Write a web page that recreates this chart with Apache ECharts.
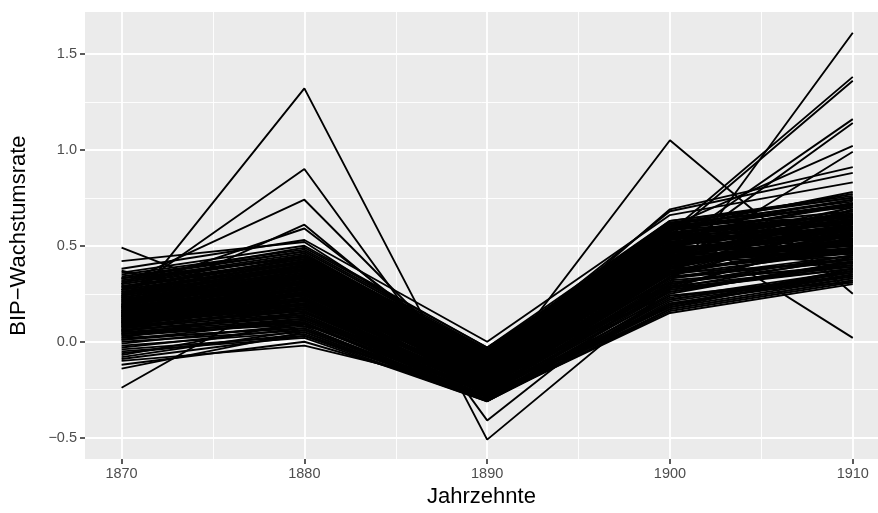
<!DOCTYPE html>
<html>
<head>
<meta charset="utf-8">
<script src="https://cdn.jsdelivr.net/npm/echarts@6/dist/echarts.min.js"></script>
<style>
html, body { margin: 0; padding: 0; background: #fff; }
#chart { width: 878px; height: 513px; }
</style>
</head>
<body>
<div id="chart"></div>
<script>
var years = [1870, 1880, 1890, 1900, 1910];
var xMinor = [1875, 1885, 1895, 1905];
var yTicks = [-0.5, 0, 0.5, 1, 1.5];
var yMinor = [-0.25, 0.25, 0.75, 1.25];

// one value per line (country) and decade
var v1870 = [0.13, 0.23, 0.30, 0.18, 0.27, 0.49, 0.42, -0.24, 0.08, 0.15, 0.20, 0.10, 0.22, 0.05, 0.31, 0.12, 0.16, 0.25, 0.02, 0.38, 0.36, -0.14, -0.12, -0.10, -0.07, 0.33, 0.29, 0.37,
    0.12, 0.18, 0.07, 0.22, 0.15, 0.03, 0.26, 0.10, 0.19, 0.14, 0.08, 0.21, 0.16, 0.29, 0.11, 0.05, 0.24, 0.13, 0.17, 0.01,
    0.20, 0.09, 0.27, 0.14, 0.06, 0.23, 0.12, 0.31, 0.16, -0.02, 0.18, 0.10, 0.25, 0.04, 0.15, 0.20, 0.08, 0.28, 0.13, 0.11,
    -0.04, 0.17, 0.22, 0.07, 0.19, 0.12, 0.33, 0.09, 0.15, 0.02, 0.24, 0.14, 0.06, 0.21, 0.18, 0.10, 0.26, 0.00, 0.16, 0.13,
    0.08, 0.30, 0.11, 0.19, 0.04, 0.23, 0.15, 0.09, 0.27, 0.12, -0.05, 0.17, 0.20, 0.06, 0.14, 0.25, 0.10, 0.32, 0.16, 0.03,
    0.21, 0.13, 0.18, 0.08, 0.24, 0.11, 0.29, 0.05, 0.19, 0.15,
    0.28, 0.35, -0.08, 0.19, 0.09, 0.32, -0.01, 0.23, 0.14, 0.06, 0.26, 0.34, -0.06, 0.17, 0.11, 0.30, 0.01, 0.21, 0.07, 0.27,
    -0.03, 0.13, 0.33, 0.18, 0.04, 0.24, -0.09, 0.16, 0.10, 0.22];
var v1880 = [1.32, 0.90, 0.74, 0.61, 0.59, 0.12, 0.52, 0.30, 0.22, 0.35, 0.40, 0.28, 0.33, 0.25, 0.45, 0.20, 0.38, 0.42, 0.18, 0.53, 0.50, 0.05, 0.00, -0.02, 0.10, 0.47, 0.08, 0.15,
    0.25, 0.31, 0.18, 0.35, 0.28, 0.12, 0.40, 0.22, 0.33, 0.27, 0.16, 0.36, 0.29, 0.43, 0.21, 0.10, 0.38, 0.26, 0.30, 0.08,
    0.34, 0.19, 0.41, 0.24, 0.14, 0.37, 0.23, 0.45, 0.31, 0.05, 0.29, 0.20, 0.39, 0.11, 0.27, 0.33, 0.17, 0.42, 0.25, 0.22,
    0.03, 0.30, 0.36, 0.15, 0.32, 0.24, 0.44, 0.18, 0.28, 0.07, 0.38, 0.26, 0.13, 0.34, 0.31, 0.21, 0.40, 0.06, 0.29, 0.25,
    0.16, 0.43, 0.23, 0.32, 0.09, 0.37, 0.27, 0.19, 0.41, 0.24, 0.02, 0.30, 0.35, 0.14, 0.26, 0.39, 0.20, 0.44, 0.28, 0.10,
    0.34, 0.25, 0.31, 0.17, 0.38, 0.22, 0.42, 0.12, 0.33, 0.27,
    0.44, 0.48, 0.06, 0.35, 0.20, 0.46, 0.09, 0.39, 0.28, 0.13, 0.42, 0.47, 0.04, 0.32, 0.23, 0.45, 0.11, 0.36, 0.17, 0.41,
    0.07, 0.26, 0.49, 0.30, 0.15, 0.40, 0.03, 0.33, 0.19, 0.37];
var v1890 = [-0.51, -0.41, -0.22, -0.18, -0.14, -0.20, -0.09, -0.27, -0.20, -0.15, -0.12, -0.16, -0.10, -0.24, -0.06, -0.19, -0.13, -0.08, -0.26, 0.00, -0.03, -0.30, -0.28, -0.25, -0.31, -0.05, -0.11, -0.17,
    -0.20, -0.16, -0.24, -0.13, -0.18, -0.27, -0.10, -0.22, -0.15, -0.19, -0.25, -0.12, -0.17, -0.08, -0.21, -0.29, -0.11, -0.20, -0.16, -0.30,
    -0.14, -0.23, -0.07, -0.18, -0.26, -0.12, -0.21, -0.05, -0.17, -0.31, -0.15, -0.22, -0.09, -0.27, -0.19, -0.14, -0.24, -0.06, -0.20, -0.21,
    -0.28, -0.16, -0.11, -0.25, -0.15, -0.19, -0.04, -0.23, -0.17, -0.29, -0.10, -0.18, -0.26, -0.13, -0.16, -0.22, -0.08, -0.30, -0.17, -0.20,
    -0.24, -0.06, -0.21, -0.14, -0.28, -0.11, -0.18, -0.23, -0.07, -0.19, -0.31, -0.16, -0.12, -0.25, -0.19, -0.09, -0.22, -0.05, -0.17, -0.27,
    -0.13, -0.20, -0.15, -0.24, -0.10, -0.21, -0.07, -0.26, -0.14, -0.18,
    -0.06, -0.04, -0.29, -0.12, -0.21, -0.07, -0.27, -0.10, -0.16, -0.24, -0.08, -0.05, -0.30, -0.14, -0.19, -0.06, -0.26, -0.11, -0.22, -0.09,
    -0.28, -0.17, -0.03, -0.13, -0.23, -0.08, -0.31, -0.15, -0.20, -0.12];
var v1900 = [0.28, 0.34, 0.46, 0.52, 0.41, 0.45, 0.55, 0.38, 1.05, 0.31, 0.57, 0.55, 0.50, 0.45, 0.60, 0.40, 0.69, 0.68, 0.62, 0.66, 0.59, 0.15, 0.20, 0.18, 0.24, 0.63, 0.36, 0.43,
    0.42, 0.48, 0.35, 0.52, 0.45, 0.28, 0.57, 0.39, 0.50, 0.44, 0.32, 0.54, 0.46, 0.60, 0.38, 0.25, 0.55, 0.43, 0.49, 0.22,
    0.51, 0.36, 0.58, 0.41, 0.30, 0.53, 0.40, 0.62, 0.47, 0.20, 0.46, 0.37, 0.56, 0.27, 0.44, 0.50, 0.33, 0.59, 0.42, 0.39,
    0.18, 0.47, 0.53, 0.31, 0.49, 0.41, 0.61, 0.35, 0.45, 0.23, 0.55, 0.43, 0.29, 0.51, 0.48, 0.38, 0.57, 0.21, 0.46, 0.42,
    0.33, 0.60, 0.40, 0.49, 0.26, 0.54, 0.44, 0.36, 0.58, 0.41, 0.19, 0.47, 0.52, 0.30, 0.43, 0.56, 0.37, 0.61, 0.45, 0.27,
    0.51, 0.42, 0.48, 0.34, 0.55, 0.39, 0.59, 0.29, 0.50, 0.44,
    0.60, 0.62, 0.17, 0.50, 0.33, 0.58, 0.22, 0.54, 0.42, 0.26, 0.57, 0.61, 0.16, 0.47, 0.37, 0.59, 0.24, 0.52, 0.30, 0.56,
    0.19, 0.40, 0.63, 0.45, 0.28, 0.55, 0.17, 0.48, 0.35, 0.51];
var v1910 = [0.55, 0.62, 0.70, 0.66, 0.58, 0.50, 0.72, 0.46, 0.25, 1.61, 1.38, 1.36, 1.16, 1.14, 1.02, 0.99, 0.91, 0.88, 0.02, 0.83, 0.78, 0.30, 0.33, 0.37, 0.31, 0.76, 0.41, 0.52,
    0.55, 0.48, 0.62, 0.51, 0.58, 0.44, 0.66, 0.53, 0.47, 0.60, 0.39, 0.57, 0.64, 0.50, 0.69, 0.42, 0.54, 0.61, 0.46, 0.36,
    0.59, 0.52, 0.72, 0.49, 0.45, 0.63, 0.56, 0.75, 0.41, 0.34, 0.65, 0.47, 0.58, 0.38, 0.53, 0.70, 0.43, 0.62, 0.51, 0.55,
    0.33, 0.60, 0.67, 0.40, 0.56, 0.48, 0.73, 0.52, 0.64, 0.37, 0.61, 0.46, 0.54, 0.68, 0.50, 0.57, 0.63, 0.35, 0.59, 0.44,
    0.49, 0.71, 0.53, 0.66, 0.42, 0.58, 0.47, 0.62, 0.74, 0.51, 0.38, 0.55, 0.60, 0.45, 0.69, 0.52, 0.48, 0.65, 0.57, 0.41,
    0.63, 0.50, 0.56, 0.43, 0.67, 0.54, 0.72, 0.39, 0.61, 0.46,
    0.74, 0.70, 0.32, 0.60, 0.45, 0.66, 0.36, 0.72, 0.53, 0.40, 0.64, 0.77, 0.31, 0.58, 0.49, 0.68, 0.34, 0.62, 0.43, 0.71,
    0.35, 0.52, 0.75, 0.56, 0.38, 0.65, 0.32, 0.59, 0.47, 0.63];

var cols = [v1870, v1880, v1890, v1900, v1910];
var font = 'Liberation Sans, Arial, Helvetica, sans-serif';

var series = [];
for (var i = 0; i < v1870.length; i++) {
    series.push({
        type: 'line',
        xAxisIndex: 0,
        yAxisIndex: 0,
        data: years.map(function (yr, k) { return [yr, cols[k][i]]; }),
        symbol: 'none',
        silent: true,
        lineStyle: { color: '#000', width: 1.9 }
    });
}

var myChart = echarts.init(document.getElementById('chart'));
option = {
    animation: false,
    textStyle: { fontFamily: font },
    grid: {
        left: 85, right: 0, top: 12, bottom: 52,
        show: true, backgroundColor: '#EBEBEB', borderWidth: 0
    },
    xAxis: [{
        type: 'value',
        min: 1868,
        max: 1911.38,
        name: 'Jahrzehnte',
        nameLocation: 'middle',
        nameGap: 18,
        nameTextStyle: { color: '#000', fontSize: 22, fontFamily: font },
        axisLine: { show: false, onZero: false },
        axisTick: { show: true, customValues: years, length: 5, lineStyle: { color: '#333', width: 1.6 } },
        axisLabel: {
            customValues: years, color: '#4D4D4D', fontSize: 14.5, margin: 7, fontFamily: font,
            formatter: function (v) { return String(v); }
        },
        splitLine: { show: true, lineStyle: { color: '#fff', width: 1.8 } }
    }, {
        type: 'value',
        min: 1868,
        max: 1911.38,
        position: 'bottom',
        axisLine: { show: false, onZero: false },
        axisTick: { show: false, customValues: xMinor },
        axisLabel: { show: false, customValues: xMinor },
        splitLine: { show: true, lineStyle: { color: '#fff', width: 0.9 } }
    }],
    yAxis: [{
        type: 'value',
        min: -0.6115,
        max: 1.718,
        name: 'BIP\u2212Wachstumsrate',
        nameLocation: 'middle',
        nameRotate: 90,
        nameGap: 55,
        nameTextStyle: { color: '#000', fontSize: 22, fontFamily: font },
        axisLine: { show: false, onZero: false },
        axisTick: { show: true, customValues: yTicks, length: 5, lineStyle: { color: '#333', width: 1.6 } },
        axisLabel: {
            customValues: yTicks, color: '#4D4D4D', fontSize: 14.5, margin: 8, fontFamily: font,
            formatter: function (v) { return (v < 0 ? '\u2212' : '') + Math.abs(v).toFixed(1); }
        },
        splitLine: { show: true, lineStyle: { color: '#fff', width: 1.8 } }
    }, {
        type: 'value',
        min: -0.6115,
        max: 1.718,
        position: 'left',
        axisLine: { show: false, onZero: false },
        axisTick: { show: false, customValues: yMinor },
        axisLabel: { show: false, customValues: yMinor },
        splitLine: { show: true, lineStyle: { color: '#fff', width: 0.9 } }
    }],
    series: series
};
myChart.setOption(option);
</script>
</body>
</html>
